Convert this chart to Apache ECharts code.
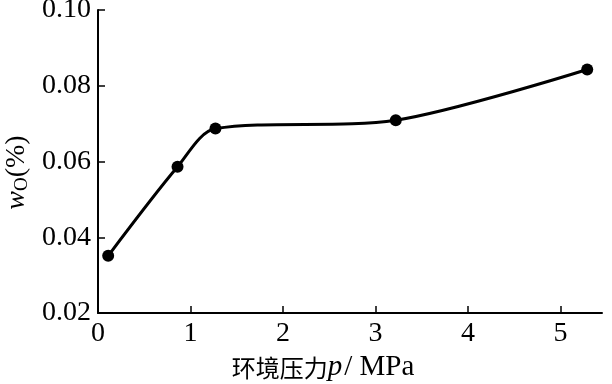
<!DOCTYPE html>
<html><head><meta charset="utf-8">
<script src="https://cdn.jsdelivr.net/npm/echarts@6/dist/echarts.min.js"></script>
<style>html,body{margin:0;padding:0;background:#fff}#c{width:612px;height:384px}</style>
</head><body><div id="c"></div>
<script>
const pressure = [0.11, 0.86, 1.27, 3.22, 5.29];
const oxygen = [0.0351, 0.0586, 0.0687, 0.0709, 0.0843];
const xTicks = [0, 1, 2, 3, 4, 5];
const yTicks = [0.02, 0.04, 0.06, 0.08, 0.10];

const serif = 'Liberation Serif, Times New Roman, serif';
const chart = echarts.init(document.getElementById('c'));
chart.setOption({
  animation: false,
  grid: {left: 98, top: 10, right: 10, bottom: 71, containLabel: false, outerBoundsMode: 'none'},
  xAxis: {
    type: 'value', min: 0, max: 5.45, interval: 1,
    axisLine: {lineStyle: {color: '#000', width: 2}},
    axisTick: {inside: true, length: 7, lineStyle: {color: '#000', width: 1.5}, customValues: xTicks},
    axisLabel: {color: '#000', fontFamily: serif, fontSize: 28, margin: 7, customValues: xTicks},
    splitLine: {show: false},
    name: '{c|环境压力}{i|p}{t|/ MPa}',
    nameLocation: 'middle', nameGap: 40,
    nameTextStyle: {
      padding: [0, 54, 0, 0],
      rich: {
        c: {fontFamily: 'Noto Sans CJK SC', fontSize: 24, color: '#000'},
        i: {fontFamily: serif, fontStyle: 'italic', fontSize: 29, color: '#000', padding: [0, 2, 0, 0]},
        t: {fontFamily: serif, fontSize: 29, color: '#000'}
      }
    }
  },
  yAxis: {
    type: 'value', min: 0.02, max: 0.10, interval: 0.02,
    axisLine: {show: true, lineStyle: {color: '#000', width: 2}},
    axisTick: {show: true, inside: true, length: 7, lineStyle: {color: '#000', width: 1.5}, customValues: yTicks},
    axisLabel: {color: '#000', fontFamily: serif, fontSize: 28, margin: 7, customValues: yTicks,
      formatter: v => v.toFixed(2)},
    splitLine: {show: false},
    name: '{i|w}{s|O}{t|(%)}',
    nameLocation: 'middle', nameGap: 66, nameRotate: 90,
    nameTextStyle: {
      padding: [0, 0, 0, -22],
      rich: {
        i: {fontFamily: serif, fontStyle: 'italic', fontSize: 28, color: '#000'},
        s: {fontFamily: serif, fontSize: 19, color: '#000', verticalAlign: 'bottom', padding: [10, 0, 0, 0]},
        t: {fontFamily: serif, fontSize: 28, color: '#000'}
      }
    }
  },
  series: [{
    type: 'line',
    data: pressure.map((x, i) => [x, oxygen[i]]),
    smooth: 0.3,
    symbol: 'circle', symbolSize: 12,
    lineStyle: {color: '#000', width: 3},
    itemStyle: {color: '#000'}
  }]
});
</script></body></html>
